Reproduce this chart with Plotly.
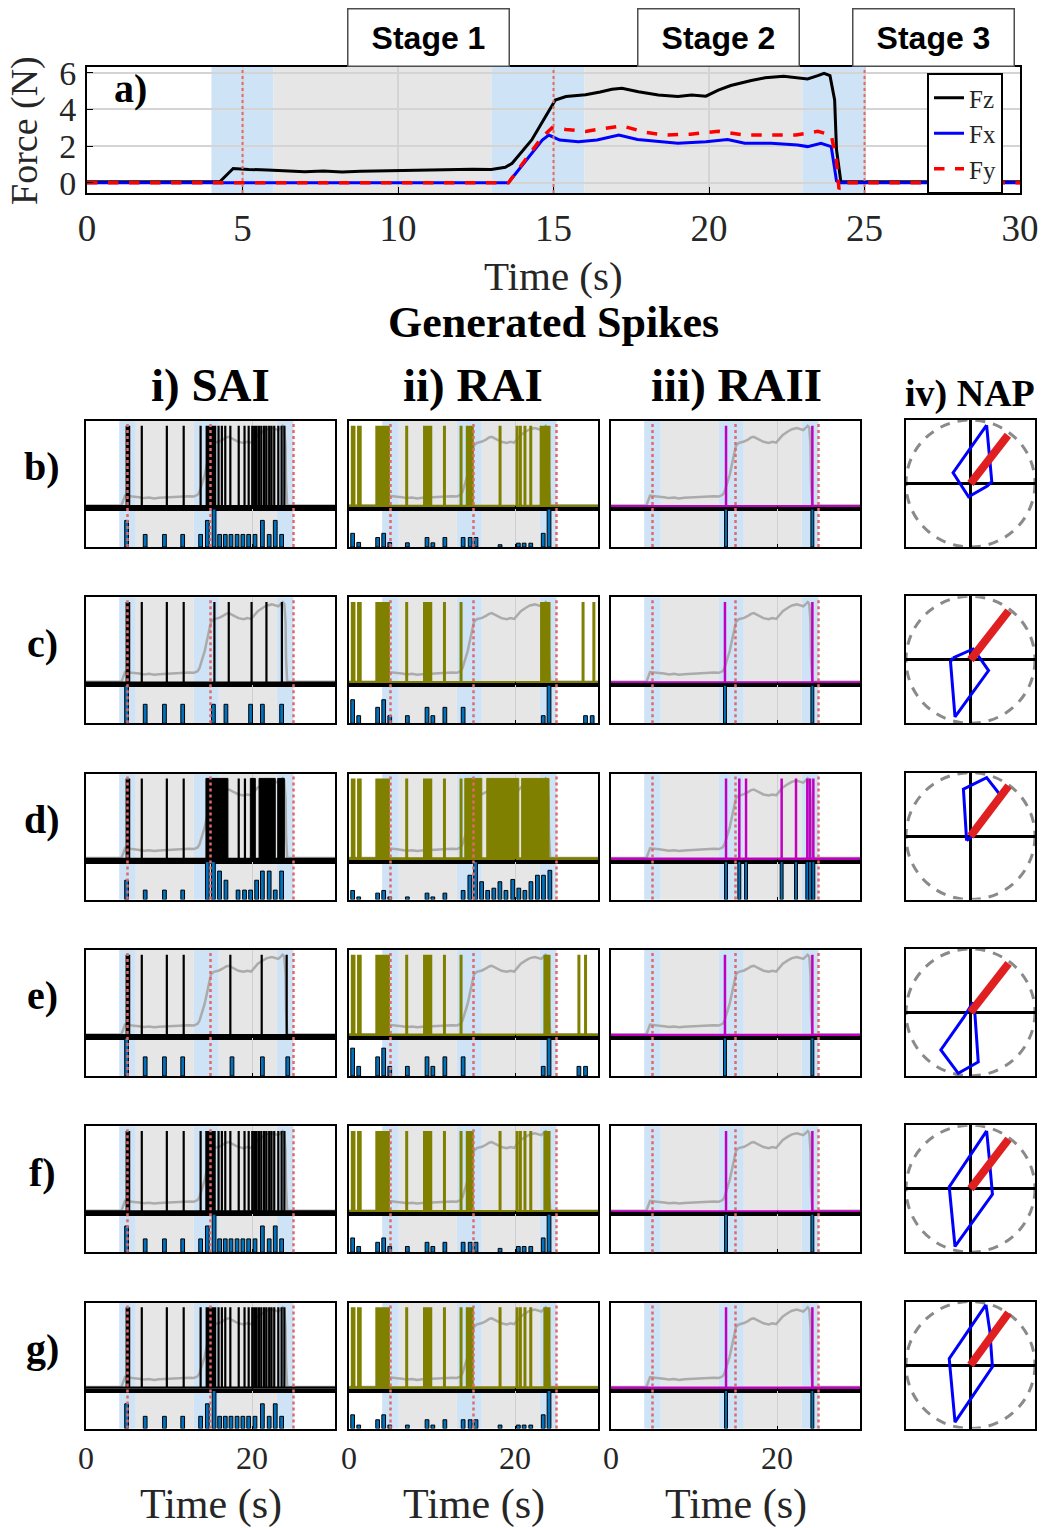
import plotly.graph_objects as go

W, H = 1042, 1528
SERIF = "Liberation Serif"
SANS = "Liberation Sans"

# ---------------- data: top panel forces ----------------
fz_t = [0, 4.27, 4.7, 5.2, 5.8, 6.4, 7.0, 7.6, 8.2, 8.8, 9.4, 10.0, 10.6, 11.2, 11.8, 12.4, 13.0, 13.45,
        13.67, 14.3, 14.74, 15.06, 15.4, 16.03, 16.5, 16.88, 17.2, 17.73, 18.37, 19.0, 19.44, 19.9, 20.3,
        20.7, 21.36, 21.8, 22.4, 22.85, 23.17, 23.5, 23.7, 23.89, 24.04, 24.1, 24.24, 30]
fz_v = [0.05, 0.05, 0.78, 0.72, 0.7, 0.66, 0.6, 0.64, 0.58, 0.62, 0.64, 0.66, 0.7, 0.72, 0.75, 0.74, 0.72, 0.84,
        1.06, 2.33, 3.6, 4.51, 4.7, 4.8, 4.95, 5.1, 5.15, 4.96, 4.78, 4.7, 4.78, 4.72, 5.05,
        5.3, 5.57, 5.72, 5.8, 5.72, 5.66, 5.84, 5.97, 5.84, 4.51, 1.8, 0.05, 0.05]
fx_t = [0, 13.55, 14.64, 14.85, 15.2, 15.8, 16.4, 17.1, 17.7, 18.4, 19.0, 19.9, 20.6, 21.15, 22.0, 22.85,
        23.17, 23.6, 23.93, 24.1, 24.2, 30]
fx_v = [0, 0, 2.33, 2.6, 2.33, 2.24, 2.33, 2.6, 2.36, 2.24, 2.15, 2.24, 2.36, 2.15, 2.15, 2.06,
        1.97, 2.15, 1.97, 0.1, 0, 0]
fy_t = [0, 13.55, 14.64, 14.96, 15.4, 16.03, 16.6, 17.2, 17.95, 18.6, 19.4, 20.3, 21.15, 22.0, 22.8,
        23.5, 23.93, 24.1, 24.18, 24.35, 30]
fy_v = [0, 0, 2.5, 3.0, 2.9, 2.8, 2.95, 3.1, 2.75, 2.6, 2.65, 2.8, 2.6, 2.6, 2.6,
        2.8, 2.6, 1.2, -0.35, 0, 0]

blue_regions = [[4, 6], [13, 16], [23, 25]]
grey_regions = [[6, 13], [16, 23]]
marker_times = [5, 15, 25]
stage_labels = ["Stage 1", "Stage 2", "Stage 3"]
top_xticks = [0, 5, 10, 15, 20, 25, 30]
top_yticks = [0, 2, 4, 6]
small_xticks = [0, 20]
row_labels = ["b)", "c)", "d)", "e)", "f)", "g)"]
col_titles = ["i) SAI", "ii) RAI", "iii) RAII", "iv) NAP"]

# ---------------- data: SAI spikes / histograms ----------------
sai_b = [4.9, 5.0, 5.1, 5.2, 6.72, 9.74, 11.77, 13.81, 14.54, 14.74, 14.95, 15.15, 15.35, 15.56, 15.97,
         16.37, 16.78, 17.39, 18.4, 19.1, 19.6, 20.03, 20.3, 20.56, 20.85, 21.13, 21.46, 21.74, 22.07,
         22.35, 22.68, 23.17, 23.57, 23.9]
sai_c = [4.9, 5.0, 5.1, 5.2, 6.72, 9.74, 11.77, 15.47, 17.2, 19.95, 21.74, 23.6]
sai_d = [4.9, 5.0, 5.1, 5.2, 6.72, 9.74, 11.77, 18.4, 19.15]
sai_d_bursts = [[14.45, 17.1], [19.8, 20.4], [20.85, 22.8], [23.1, 23.9]]
sai_e = [4.9, 5.0, 5.1, 5.2, 6.72, 9.74, 11.77, 17.39, 21.17, 24.18]
sai_f = [4.9, 5.0, 5.1, 5.2, 6.72, 9.74, 11.77, 13.81, 14.5, 14.7, 14.9, 15.1, 15.3, 15.5, 15.97,
         16.37, 16.78, 17.39, 18.4, 19.1, 19.6, 20.03, 20.3, 20.56, 20.85, 21.13, 21.46, 21.74, 22.07,
         22.35, 22.68, 23.17, 23.57, 23.9]
sai_g = [4.9, 5.0, 5.1, 5.2, 6.72, 9.74, 11.77, 13.81, 14.54, 14.74, 14.95, 15.15, 15.35, 15.56, 15.97,
         16.37, 16.78, 17.39, 18.4, 19.1, 19.6, 20.03, 20.3, 20.56, 20.85, 21.13, 21.46, 21.74, 22.07,
         22.35, 22.68, 23.17, 23.57, 23.9]

sai_hist_b_t = [4.89, 7.13, 9.45, 11.65, 13.81, 14.62, 15.43, 16.1, 16.78, 17.47, 18.2, 18.9, 19.6,
                20.36, 21.25, 22.07, 22.8, 23.57]
sai_hist_b_v = [0.7, 0.33, 0.33, 0.33, 0.33, 0.7, 1.0, 0.33, 0.33, 0.33, 0.33, 0.33, 0.33,
                0.33, 0.7, 0.33, 0.7, 0.33]
sai_hist_c_t = [4.89, 7.13, 9.45, 11.65, 15.35, 16.86, 19.83, 21.25, 23.57]
sai_hist_c_v = [1.0, 0.5, 0.5, 0.5, 0.5, 0.5, 0.5, 0.5, 0.5]
sai_hist_d_t = [4.89, 7.13, 9.45, 11.65, 14.62, 15.35, 16.09, 16.86, 18.32, 19.1, 19.83, 20.56, 21.25,
                22.07, 22.8, 23.57]
sai_hist_d_v = [0.51, 0.25, 0.25, 0.25, 1.0, 1.0, 0.75, 0.51, 0.25, 0.25, 0.25, 0.51, 0.75,
                0.75, 0.25, 0.75]
sai_hist_e_t = [4.89, 7.13, 9.45, 11.65, 17.59, 21.25, 24.31]
sai_hist_e_v = [1.0, 0.5, 0.5, 0.5, 0.5, 0.5, 0.5]
sai_hist_f_t = [4.89, 7.13, 9.45, 11.65, 13.81, 14.62, 15.43, 16.1, 16.78, 17.47, 18.2, 18.9, 19.6,
                20.36, 21.25, 22.07, 22.8, 23.57]
sai_hist_f_v = [0.69, 0.35, 0.35, 0.35, 0.35, 0.69, 1.0, 0.35, 0.35, 0.35, 0.35, 0.35, 0.35,
                0.35, 0.69, 0.35, 0.69, 0.35]
sai_hist_g_t = [4.89, 7.13, 9.45, 11.65, 13.81, 14.62, 15.43, 16.1, 16.78, 17.47, 18.2, 18.9, 19.6,
                20.36, 21.25, 22.07, 22.8, 23.57]
sai_hist_g_v = [0.65, 0.32, 0.32, 0.32, 0.32, 0.65, 1.0, 0.32, 0.32, 0.32, 0.32, 0.32, 0.32,
                0.32, 0.65, 0.32, 0.65, 0.32]

# ---------------- data: RAI spikes / histograms ----------------
rai_b = [0.4, 0.6, 1.15, 1.35, 3.35, 3.5, 3.75, 3.9, 4.15, 4.3, 4.45, 4.6, 4.75, 6.95, 9.1, 9.3, 9.6,
         9.85, 11.5, 13.5, 14.25, 14.4, 14.7, 14.85, 18.2, 20.25, 20.65, 21.2, 21.9, 23.15, 23.3, 23.6,
         23.75, 23.9, 24.1]
rai_c = [0.4, 0.6, 1.15, 1.35, 3.35, 3.5, 3.75, 3.9, 4.15, 4.3, 4.45, 4.6, 4.75, 6.95, 9.1, 9.3, 9.6,
         9.85, 11.5, 13.5, 23.2, 23.35, 23.5, 23.65, 23.8, 23.95, 24.1, 28.2, 29.5]
rai_d = [0.4, 0.6, 1.15, 1.35, 3.35, 3.5, 3.75, 3.9, 4.15, 4.3, 4.45, 4.6, 4.75, 6.95, 9.1, 9.3, 9.6,
         9.85, 11.5, 13.5]
rai_d_bursts = [[13.95, 16.0], [16.6, 20.45], [20.8, 24.1]]
rai_e = [0.4, 0.6, 1.15, 1.35, 3.35, 3.5, 3.75, 3.9, 4.15, 4.3, 4.45, 4.6, 4.75, 6.95, 9.1, 9.3, 9.6,
         9.85, 11.5, 13.5, 23.6, 23.75, 23.9, 24.1, 27.7, 28.5]
rai_f = [0.4, 0.6, 1.15, 1.35, 3.35, 3.5, 3.75, 3.9, 4.15, 4.3, 4.45, 4.6, 4.75, 6.95, 9.1, 9.3, 9.6,
         9.85, 11.5, 13.5, 14.25, 14.4, 14.7, 14.85, 18.2, 20.25, 20.65, 21.2, 21.9, 23.6, 23.75, 23.9,
         24.1]
rai_g = [0.4, 0.6, 1.15, 1.35, 3.35, 3.5, 3.75, 3.9, 4.15, 4.3, 4.45, 4.6, 4.75, 6.95, 9.1, 9.3, 9.6,
         9.85, 11.5, 13.5, 14.25, 14.4, 14.7, 14.85, 18.2, 20.25, 20.65, 21.2, 21.9, 23.6, 23.75, 23.9,
         24.1]

rai_hist_b_t = [0.44, 1.17, 3.45, 4.18, 4.91, 7.03, 9.4, 10.1, 11.55, 13.75, 14.6, 15.3, 18.2, 20.4,
                21.1, 21.9, 23.4, 24.1]
rai_hist_b_v = [0.36, 0.12, 0.25, 0.36, 0.12, 0.11, 0.25, 0.11, 0.25, 0.25, 0.25, 0.25, 0.06, 0.1,
                0.1, 0.1, 0.36, 1.0]
rai_hist_c_t = [0.44, 1.17, 3.45, 4.18, 4.91, 7.03, 9.4, 10.1, 11.55, 13.75, 23.4, 24.1, 28.5, 29.3]
rai_hist_c_v = [0.62, 0.2, 0.42, 0.62, 0.2, 0.2, 0.42, 0.2, 0.42, 0.42, 0.2, 1.0, 0.2, 0.2]
rai_hist_d_t = [0.44, 1.17, 3.45, 4.18, 4.91, 7.03, 9.4, 10.1, 11.55, 13.75, 14.56, 15.25, 15.98,
                16.71, 17.45, 18.18, 18.91, 19.73, 20.46, 21.19, 21.92, 22.7, 23.43, 24.2]
rai_hist_d_v = [0.24, 0.07, 0.17, 0.24, 0.07, 0.07, 0.17, 0.07, 0.17, 0.24, 0.64, 1.0, 0.47,
                0.24, 0.3, 0.47, 0.24, 0.53, 0.3, 0.24, 0.47, 0.64, 0.64, 0.77]
rai_hist_e_t = [0.44, 1.17, 3.45, 4.18, 4.91, 7.03, 9.4, 10.1, 11.55, 13.75, 23.4, 24.1, 27.7, 28.5]
rai_hist_e_v = [0.73, 0.25, 0.5, 0.73, 0.25, 0.25, 0.5, 0.25, 0.5, 0.5, 0.25, 1.0, 0.25, 0.25]
rai_hist_f_t = [0.44, 1.17, 3.45, 4.18, 4.91, 7.03, 9.4, 10.1, 11.55, 13.75, 14.6, 15.3, 18.2, 20.4,
                21.1, 21.9, 23.4, 24.1]
rai_hist_f_v = [0.375, 0.15, 0.26, 0.375, 0.15, 0.15, 0.26, 0.15, 0.26, 0.26, 0.26, 0.26, 0.1, 0.15,
                0.15, 0.15, 0.375, 1.0]
rai_hist_g_t = [0.44, 1.17, 3.45, 4.18, 4.91, 7.03, 9.4, 10.1, 11.55, 13.75, 14.6, 15.3, 18.2, 20.4,
                21.1, 21.9, 23.4, 24.1]
rai_hist_g_v = [0.36, 0.09, 0.23, 0.36, 0.09, 0.09, 0.23, 0.09, 0.23, 0.23, 0.23, 0.23, 0.09, 0.09,
                0.09, 0.09, 0.36, 1.0]

# ---------------- data: RAII spikes ----------------
raii_b = [13.86, 24.26]
raii_c = [13.73, 24.26]
raii_d = [13.86, 15.46, 16.27, 20.56, 22.29, 23.65, 23.98, 24.38]
raii_e = [13.73, 24.26]
raii_f = [13.86, 24.26]
raii_g = [13.86, 24.26]

# ---------------- data: NAP polygons and vectors ----------------
nap_b_x = [0.25, -0.27, -0.03, 0.26, 0.33, 0.25]
nap_b_y = [0.92, 0.17, -0.21, -0.04, 0.03, 0.92]
nap_c_x = [-0.27, 0.04, 0.17, 0.28, -0.24, -0.31, -0.27]
nap_c_y = [0.03, 0.17, -0.01, -0.17, -0.9, -0.03, 0.03]
nap_d_x = [-0.06, -0.11, 0.25, 0.45, 0.05, -0.06]
nap_d_y = [-0.07, 0.74, 0.92, 0.66, 0.02, -0.07]
nap_e_x = [0.04, 0.07, 0.12, -0.19, -0.46, -0.1, 0.04]
nap_e_y = [0.16, -0.05, -0.78, -0.96, -0.59, -0.07, 0.16]
nap_f_x = [0.25, -0.33, -0.24, 0.34, 0.29, 0.25]
nap_f_y = [0.91, 0.03, -0.91, -0.09, 0.49, 0.91]
nap_g_x = [0.24, -0.33, -0.24, 0.34, 0.30, 0.24]
nap_g_y = [0.95, 0.10, -0.90, -0.03, 0.53, 0.95]
vec_x = [0.58, 0.59, 0.59, 0.59, 0.59, 0.59]
vec_y = [0.76, 0.77, 0.79, 0.77, 0.78, 0.82]

sai_rows = [sai_b, sai_c, sai_d, sai_e, sai_f, sai_g]
sai_bursts = [[], [], sai_d_bursts, [], [], []]
sai_hist_t = [sai_hist_b_t, sai_hist_c_t, sai_hist_d_t, sai_hist_e_t, sai_hist_f_t, sai_hist_g_t]
sai_hist_v = [sai_hist_b_v, sai_hist_c_v, sai_hist_d_v, sai_hist_e_v, sai_hist_f_v, sai_hist_g_v]
rai_rows = [rai_b, rai_c, rai_d, rai_e, rai_f, rai_g]
rai_bursts = [[], [], rai_d_bursts, [], [], []]
rai_hist_t = [rai_hist_b_t, rai_hist_c_t, rai_hist_d_t, rai_hist_e_t, rai_hist_f_t, rai_hist_g_t]
rai_hist_v = [rai_hist_b_v, rai_hist_c_v, rai_hist_d_v, rai_hist_e_v, rai_hist_f_v, rai_hist_g_v]
raii_rows = [raii_b, raii_c, raii_d, raii_e, raii_f, raii_g]
nap_x = [nap_b_x, nap_c_x, nap_d_x, nap_e_x, nap_f_x, nap_g_x]
nap_y = [nap_b_y, nap_c_y, nap_d_y, nap_e_y, nap_f_y, nap_g_y]

# ---------------- styles ----------------
C_BLUE_REG = "#cfe3f7"
C_GREY_REG = "#e6e6e6"
C_MARK = "#e06a6a"
C_HIST = "#0072BD"
C_SAI = "#000000"
C_RAI = "#808000"
C_RAII = "#bf00bf"
C_FORCE_BG = "#ababab"


def fx(px):
    return px / W


def fy(py):
    return 1 - py / H


fig = go.Figure()
lay = {}
shapes = []
ann = []
count = [0]


def text(t, px, py, size, family=SERIF, color="black", **kw):
    d = dict(text=t, x=fx(px), y=fy(py), xref="paper", yref="paper", xanchor="center",
             yanchor="middle", showarrow=False, font=dict(family=family, size=size, color=color))
    d.update(kw)
    ann.append(d)


def add_axes(x0, x1, y0, y1, xr, yr, xopts=None, yopts=None):
    count[0] += 1
    n = count[0]
    sx = "" if n == 1 else str(n)
    base = dict(showline=True, mirror=True, linecolor="black", linewidth=2, zeroline=False,
                showgrid=False, showticklabels=False, ticks="", fixedrange=True, automargin=False)
    xa = dict(base, domain=[fx(x0), fx(x1)], range=xr, anchor="y" + sx)
    ya = dict(base, domain=[fy(y1), fy(y0)], range=yr, anchor="x" + sx)
    if xopts:
        xa.update(xopts)
    if yopts:
        ya.update(yopts)
    lay["xaxis" + sx] = xa
    lay["yaxis" + sx] = ya
    return "x" + sx, "y" + sx


def add_regions(xref, ytop, ybot):
    for a, b in blue_regions:
        shapes.append(dict(type="rect", xref=xref, yref="paper", x0=a, x1=b, y0=fy(ybot), y1=fy(ytop),
                           fillcolor=C_BLUE_REG, line=dict(width=0), layer="below"))
    for a, b in grey_regions:
        shapes.append(dict(type="rect", xref=xref, yref="paper", x0=a, x1=b, y0=fy(ybot), y1=fy(ytop),
                           fillcolor=C_GREY_REG, line=dict(width=0), layer="below"))


def add_markers(xref, ytop, ybot, width=2.5):
    for t in marker_times:
        shapes.append(dict(type="line", xref=xref, yref="paper", x0=t, x1=t, y0=fy(ybot), y1=fy(ytop),
                           line=dict(color=C_MARK, width=width, dash="dot"), layer="above"))


# ---------------- top panel ----------------
tick_font = dict(family=SERIF, size=37, color="#262626")
ytick_font = dict(family=SERIF, size=34, color="#262626")
xa, ya = add_axes(87, 1020, 67, 193, [0, 30], [-0.56, 6.31],
                  xopts=dict(showticklabels=True, tickvals=top_xticks, ticks="inside", ticklen=6,
                             tickcolor="black", showgrid=True, gridcolor="#d4d4d4", gridwidth=1.5,
                             tickfont=tick_font, ticklabelstandoff=2),
                  yopts=dict(showticklabels=True, tickvals=top_yticks, ticks="inside", ticklen=6,
                             tickcolor="black", showgrid=True, gridcolor="#d4d4d4", gridwidth=1.5,
                             tickfont=ytick_font, ticklabelstandoff=2))
add_regions(xa, 67, 193)
add_markers(xa, 67, 193, width=2)
fig.add_trace(go.Scatter(x=fz_t, y=fz_v, mode="lines", name="Fz", line=dict(color="black", width=3),
                         xaxis=xa, yaxis=ya))
fig.add_trace(go.Scatter(x=fx_t, y=fx_v, mode="lines", name="Fx", line=dict(color="#0000ff", width=3),
                         xaxis=xa, yaxis=ya))
fig.add_trace(go.Scatter(x=fy_t, y=fy_v, mode="lines", name="Fy",
                         line=dict(color="#ff0000", width=3.5, dash="dash"), xaxis=xa, yaxis=ya))

text("<b>a)</b>", 130, 88, 40)
text("Time (s)", 553, 276, 41, color="#262626")
text("Force (N)", 24, 131, 38, color="#262626", textangle=-90)
stage_px = [428.5, 719, 933.5]
for lab, cx in zip(stage_labels, stage_px):
    ann.append(dict(text="<b>" + lab + "</b>", x=fx(cx), y=fy(67), xref="paper", yref="paper",
                    xanchor="center", yanchor="bottom", showarrow=False, width=158, height=54,
                    borderpad=1, borderwidth=1.5, bordercolor="#4d4d4d", bgcolor="white",
                    font=dict(family=SANS, size=32, color="black")))

text("<b>Generated Spikes</b>", 553, 323, 44)

# ---------------- small panels ----------------
col_left = [86, 349, 611]
PW = 249
ROW0 = 421
ROWSTEP = 176.3
SPH = 88
HH = 38

fz_max = max(fz_v)
fz_norm = [v / fz_max for v in fz_v]


def spike_xy(times):
    xs, ys = [0.0], [0.0]
    for t in sorted(times):
        xs += [t, t, t]
        ys += [0, 1, 0]
    xs.append(30.0)
    ys.append(0.0)
    return xs, ys


def burst_xy(bursts):
    xs, ys = [], []
    for s, e in bursts:
        xs += [s, s, e, e, s, None]
        ys += [0, 1, 1, 0, 0, None]
    return xs, ys


for r in range(6):
    top = ROW0 + ROWSTEP * r
    mid = top + SPH
    bot = mid + HH
    last = (r == 5)
    for c in range(3):
        x0 = col_left[c]
        x1 = x0 + PW
        grid = dict(tickvals=small_xticks, showgrid=True, gridcolor="#cfcfcf", gridwidth=1,
                    ticks="inside", ticklen=3, tickcolor="black")
        sxa, sya = add_axes(x0, x1, top, mid, [0, 30], [-0.035, 1.06], xopts=dict(grid))
        hx = dict(grid)
        if last:
            hx.update(showticklabels=True, tickfont=dict(family=SERIF, size=32, color="#262626"),
                      ticklabelstandoff=0)
        hxa, hya = add_axes(x0, x1, mid, bot, [0, 30], [0, 1.0], xopts=hx)
        add_regions(sxa, top, bot)
        add_markers(sxa, top, bot)
        # force trace (normalised Fz) in grey
        fig.add_trace(go.Scatter(x=fz_t, y=fz_norm, mode="lines", line=dict(color=C_FORCE_BG, width=2.5),
                                 showlegend=False, xaxis=sxa, yaxis=sya, hoverinfo="skip"))
        if c == 0:
            times, bursts, color, lw = sai_rows[r], sai_bursts[r], C_SAI, 2.2
            ht, hv = sai_hist_t[r], sai_hist_v[r]
            bw = 0.45
        elif c == 1:
            times, bursts, color, lw = rai_rows[r], rai_bursts[r], C_RAI, 3
            ht, hv = rai_hist_t[r], rai_hist_v[r]
            bw = 0.45
        else:
            times, bursts, color, lw = raii_rows[r], [], C_RAII, 2.5
            ht, hv = raii_rows[r], [1.0 for _ in raii_rows[r]]
            bw = 0.35
        if bursts:
            bx, by = burst_xy(bursts)
            fig.add_trace(go.Scatter(x=bx, y=by, mode="lines", fill="toself", fillcolor=color,
                                     line=dict(color=color, width=1), showlegend=False,
                                     xaxis=sxa, yaxis=sya, hoverinfo="skip"))
        sx_, sy_ = spike_xy(times)
        fig.add_trace(go.Scatter(x=sx_, y=sy_, mode="lines", line=dict(color=color, width=lw),
                                 showlegend=False, xaxis=sxa, yaxis=sya, hoverinfo="skip"))
        fig.add_trace(go.Bar(x=ht, y=hv, width=bw, marker=dict(color=C_HIST, line=dict(color="black", width=1)),
                             showlegend=False, xaxis=hxa, yaxis=hya, hoverinfo="skip"))
        if last:
            text("Time (s)", (x0 + x1) / 2, 1504, 42, color="#262626")

    # NAP panel
    nxa, nya = add_axes(906, 1035, top - 1, bot, [-1, 1], [-1, 1],
                        xopts=dict(zeroline=True, zerolinecolor="black", zerolinewidth=3),
                        yopts=dict(zeroline=True, zerolinecolor="black", zerolinewidth=3))
    shapes.append(dict(type="circle", xref=nxa, yref=nya, x0=-1, y0=-1, x1=1, y1=1,
                       line=dict(color="#8a8a8a", width=3, dash="10px,8px"), layer="below"))
    fig.add_trace(go.Scatter(x=nap_x[r], y=nap_y[r], mode="lines", line=dict(color="#0000ff", width=3),
                             showlegend=False, xaxis=nxa, yaxis=nya, hoverinfo="skip"))
    fig.add_trace(go.Scatter(x=[0, vec_x[r]], y=[0, vec_y[r]], mode="lines",
                             line=dict(color="#e02020", width=8), showlegend=False,
                             xaxis=nxa, yaxis=nya, hoverinfo="skip"))

    text("<b>" + row_labels[r] + "</b>", 42, 467 + ROWSTEP * r, 40)

# column titles
title_px = [(210, 385, 47), (473, 385, 47), (736, 385, 47), (970, 393, 38)]
for t, (cx, cy, sz) in zip(col_titles, title_px):
    text("<b>" + t + "</b>", cx, cy, sz)

lay.update(dict(
    width=W, height=H, margin=dict(l=0, r=0, t=0, b=0, pad=0, autoexpand=False),
    paper_bgcolor="white", plot_bgcolor="rgba(0,0,0,0)",
    showlegend=True, barmode="overlay",
    legend=dict(x=fx(1003), y=fy(73), xanchor="right", yanchor="top", bgcolor="white",
                bordercolor="black", borderwidth=2, itemwidth=30, tracegroupgap=0,
                font=dict(family=SERIF, size=25, color="#262626")),
    shapes=shapes, annotations=ann,
))
fig.update_layout(**lay)
fig.write_html("out.html", config={"displayModeBar": False},
               post_script="document.body.style.margin='0px';")
